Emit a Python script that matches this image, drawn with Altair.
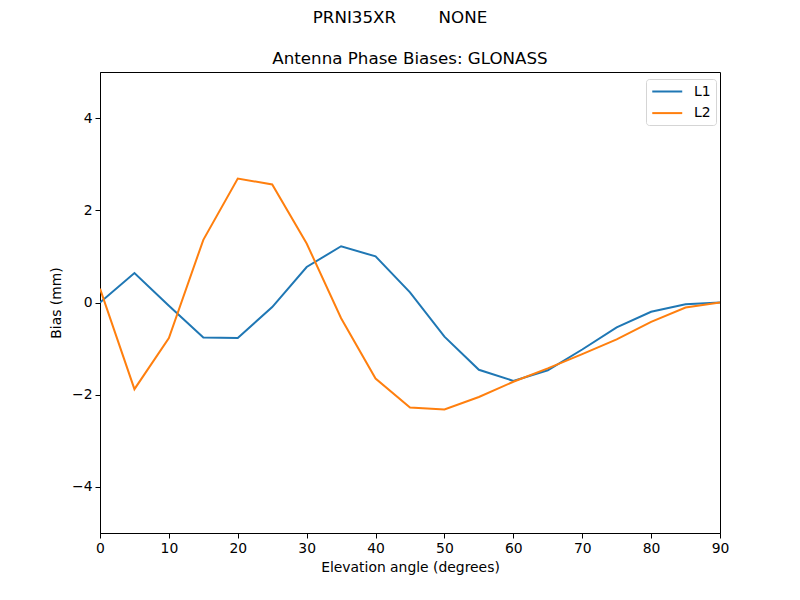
import altair as alt
import pandas as pd

elev = [0, 5, 10, 15, 20, 25, 30, 35, 40, 45, 50, 55, 60, 65, 70, 75, 80, 85, 90]
l1 = [0.0, 0.64, -0.07, -0.76, -0.77, -0.10, 0.77, 1.22, 1.00, 0.22, -0.74, -1.46, -1.70, -1.47, -1.02, -0.54, -0.20, -0.04, 0.0]
l2 = [0.30, -1.88, -0.77, 1.36, 2.69, 2.56, 1.28, -0.34, -1.65, -2.28, -2.32, -2.05, -1.72, -1.43, -1.12, -0.80, -0.42, -0.11, 0.0]
series = ["L1", "L2"]
colors = ["#1f77b4", "#ff7f0e"]
NB = "\u00a0"
suptitle = "PRNI35XR" + NB * 8 + "NONE"
title = "Antenna Phase Biases: GLONASS"

rows = []
for name, vals in zip(series, [l1, l2]):
    for e, v in zip(elev, vals):
        rows.append({"elev": e, "bias": v, "series": name})
df = pd.DataFrame(rows)

FONT = "DejaVu Sans"

lines = alt.Chart(df).mark_line(strokeWidth=2, clip=True).encode(
    x=alt.X("elev:Q", scale=alt.Scale(domain=[0, 90], nice=False),
            axis=alt.Axis(values=list(range(0, 91, 10)), title="Elevation angle (degrees)",
                          grid=False, tickSize=5, labelPadding=3, titlePadding=6,
                          labelFlush=False, labelOverlap=False,
                          domainColor="black", tickColor="black")),
    y=alt.Y("bias:Q", scale=alt.Scale(domain=[-5, 5], nice=False),
            axis=alt.Axis(values=[-4, -2, 0, 2, 4], title="Bias (mm)", grid=False,
                          tickSize=5, labelPadding=3, titlePadding=8,
                          labelFlush=False,
                          labelExpr="replace(format(datum.value, 'd'), '-', '\u2212')",
                          domainColor="black", tickColor="black")),
    color=alt.Color("series:N", scale=alt.Scale(domain=series, range=colors),
                    legend=alt.Legend(title=None, orient="none", legendX=546, legendY=7,
                                      symbolType="M-1,0H3.8", symbolSize=156, symbolStrokeWidth=2,
                                      labelFontSize=13.9, labelFont=FONT, labelColor="black",
                                      strokeColor="#d5d5d5", fillColor="white", cornerRadius=3,
                                      padding=5, rowPadding=6.6, labelOffset=28)),
)

sup = alt.Chart(pd.DataFrame({"t": [suptitle]})).mark_text(
    font=FONT, fontSize=16.7, color="black", baseline="middle", align="center", clip=False
).encode(text="t:N", x=alt.value(300), y=alt.value(-54))

ttl = alt.Chart(pd.DataFrame({"t": [title]})).mark_text(
    font=FONT, fontSize=16.7, color="black", baseline="middle", align="center", clip=False
).encode(text="t:N", x=alt.value(310), y=alt.value(-13))

chart = alt.layer(lines, sup, ttl).properties(
    width=620, height=461,
    padding={"left": 92, "top": 64, "right": 72, "bottom": 59},
    autosize=alt.AutoSizeParams(type="none"),
).configure_view(stroke="black", strokeWidth=1).configure_axis(
    labelFont=FONT, titleFont=FONT, labelFontSize=13.9, titleFontSize=13.9,
    labelColor="black", titleColor="black", titleFontWeight="normal"
)

chart.save("out.html", embed_options={"renderer": "svg", "actions": False})
